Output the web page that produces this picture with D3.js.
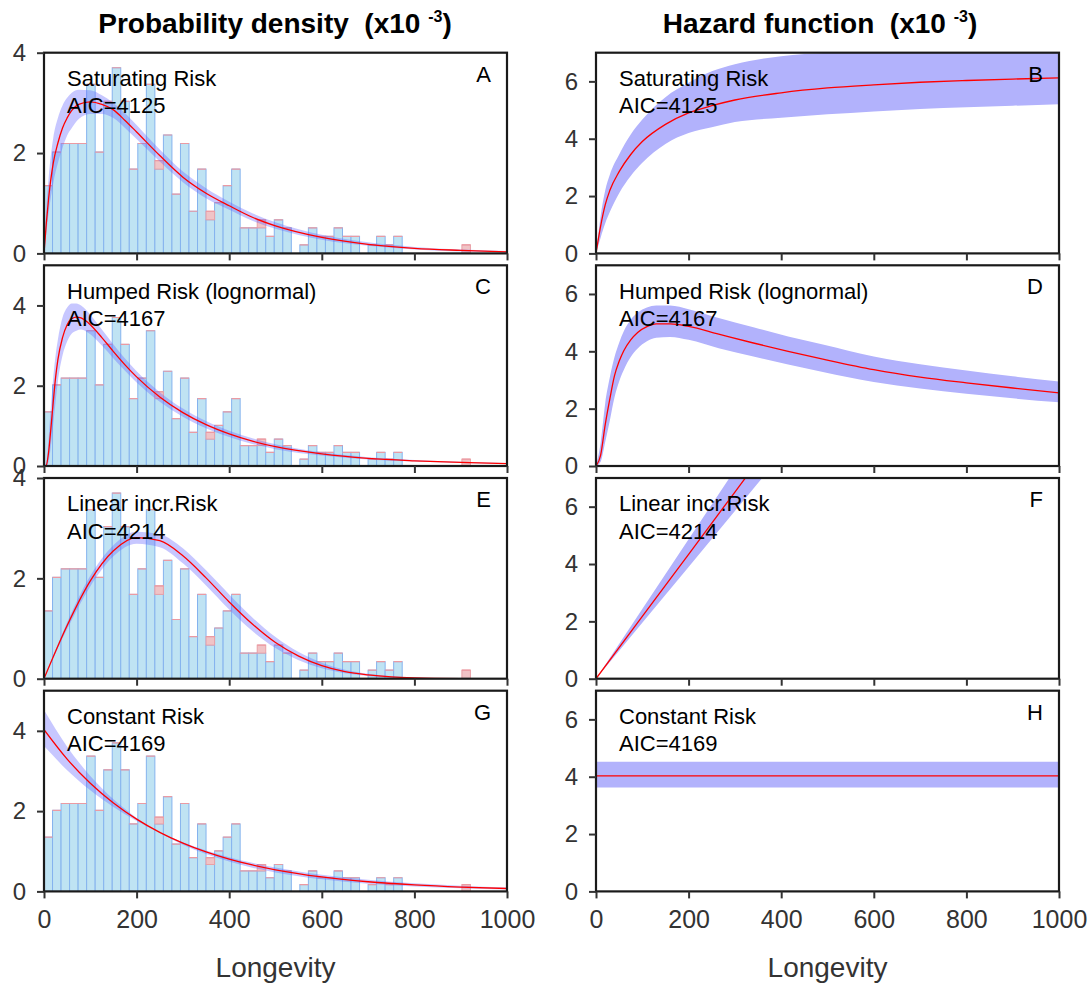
<!DOCTYPE html>
<html><head><meta charset="utf-8">
<script src="https://cdn.jsdelivr.net/npm/d3@7"></script>
<style>body{margin:0;background:#fff;} text{font-family:"Liberation Sans",Arial,sans-serif;}</style>
</head><body>
<svg id="c" width="1090" height="988"></svg>
<script>
// ---------- data ----------
const modelNames = ["Saturating Risk", "Humped Risk (lognormal)", "Linear incr.Risk", "Constant Risk"];
const aicValues = [4125, 4167, 4214, 4169];
const densLetters = ["A", "C", "E", "G"];
const hazLetters = ["B", "D", "F", "H"];
const xTicks = [0, 200, 400, 600, 800, 1000];
const densTicks = [0, 2, 4];
const hazTicks = [0, 2, 4, 6];
const densMax = [4, 5, 4, 5];
const hazMax = [7, 7, 7, 7];

// histogram (density x10^-3), 50 bins of width 18.42 from 0
const binWidth = 18.42;
const histBlue = [1.35,2.02,2.19,2.19,2.19,3.37,2.02,3.03,3.70,3.03,1.68,2.19,3.37,1.68,2.36,1.18,2.19,0.84,1.68,0.67,
  1.01,1.35,1.68,0.51,0.51,0.51,0.34,0.67,0.51,0,0.17,0.51,0.34,0.34,0.51,0.34,0.34,0,0.17,0.34,
  0.17,0.34,0,0,0,0,0,0,0,0];
const histPink = [1.35,2.02,2.19,2.19,2.19,3.37,2.02,3.03,3.70,3.03,1.68,2.19,3.37,1.85,2.36,1.18,2.19,0.84,1.68,0.84,
  1.01,1.35,1.68,0.51,0.51,0.67,0.34,0.67,0.51,0,0.17,0.51,0.34,0.34,0.51,0.34,0.34,0,0.17,0.34,
  0.17,0.34,0,0,0,0,0,0,0,0.17];

// A: saturating density
const tA = [0,5,10,20,30,40,50,60,75,100,125,150,175,200,250,300,350,400,450,500,600,700,800,900,1000];
const fA = [0,0.6,1.1,1.8,2.2,2.5,2.7,2.85,2.97,3.02,2.97,2.86,2.65,2.42,1.95,1.52,1.2,0.95,0.72,0.55,0.32,0.18,0.10,0.06,0.03];
const fA_hi = [0,0.9,1.5,2.3,2.7,2.95,3.1,3.2,3.26,3.25,3.15,3.0,2.8,2.56,2.07,1.63,1.3,1.03,0.8,0.62,0.37,0.22,0.13,0.08,0.05];
const fA_lo = [0,0.4,0.8,1.4,1.8,2.1,2.35,2.5,2.68,2.78,2.78,2.7,2.5,2.28,1.83,1.42,1.1,0.87,0.65,0.49,0.27,0.15,0.08,0.04,0.02];
// B: saturating hazard
const tB = [0,10,20,30,50,75,100,150,200,250,300,400,500,600,700,800,900,1000];
const hB = [0,0.95,1.7,2.2,2.85,3.45,3.9,4.5,4.9,5.15,5.35,5.6,5.77,5.88,5.97,6.03,6.08,6.12];
const hB_hi = [0,1.3,2.2,2.75,3.45,4.15,4.67,5.45,5.95,6.35,6.6,6.88,7.0,7.07,7.15,7.2,7.25,7.28];
const hB_lo = [0,0.55,1.05,1.45,2.1,2.7,3.16,3.82,4.2,4.4,4.58,4.73,4.85,4.95,5.04,5.1,5.15,5.2];
// C: lognormal density
const tC = [0,5,10,15,20,25,30,40,50,60,70,80,90,100,125,150,175,200,250,300,350,400,450,500,600,700,800,900,1000];
const fC = [0,0.02,0.35,0.95,1.6,2.2,2.65,3.2,3.52,3.67,3.71,3.69,3.62,3.52,3.2,2.85,2.52,2.22,1.72,1.33,1.03,0.8,0.62,0.48,0.3,0.19,0.13,0.09,0.06];
const fC_hi = [0,0.1,0.7,1.5,2.2,2.75,3.15,3.7,3.95,4.05,4.05,4.0,3.9,3.77,3.4,3.03,2.68,2.36,1.84,1.43,1.12,0.88,0.69,0.54,0.34,0.22,0.15,0.105,0.075];
const fC_lo = [0,0,0.12,0.5,1.05,1.6,2.1,2.75,3.1,3.3,3.37,3.4,3.36,3.28,3.0,2.68,2.37,2.08,1.6,1.23,0.94,0.72,0.55,0.42,0.26,0.16,0.11,0.075,0.048];
// D: lognormal hazard
const tD = [0,10,20,30,40,50,60,75,90,110,130,160,200,265,340,415,490,600,700,800,900,1000];
const hD = [0,0.38,1.45,2.35,3.15,3.65,4.02,4.4,4.66,4.86,4.96,4.96,4.87,4.6,4.29,4.0,3.73,3.36,3.1,2.9,2.72,2.55];
const hD_hi = [0,0.8,2.2,3.1,3.8,4.3,4.7,5.1,5.35,5.53,5.6,5.6,5.47,5.16,4.84,4.52,4.24,3.82,3.55,3.33,3.13,2.95];
const hD_lo = [0,0.15,0.85,1.6,2.4,2.95,3.35,3.8,4.1,4.35,4.47,4.5,4.4,4.11,3.82,3.54,3.28,2.93,2.7,2.52,2.36,2.22];
// E: linear-hazard density
const tE = [0,50,100,150,200,250,300,350,400,450,500,550,600,650,700,750,800,900,1000];
const fE = [0,1.06,1.95,2.55,2.81,2.75,2.45,2.01,1.53,1.09,0.72,0.45,0.26,0.14,0.075,0.036,0.017,0.003,0];
const fE_hi = [0,1.12,2.05,2.66,2.93,2.88,2.6,2.16,1.68,1.22,0.83,0.53,0.32,0.18,0.1,0.05,0.025,0.005,0];
const fE_lo = [0,0.99,1.84,2.44,2.69,2.62,2.3,1.86,1.38,0.95,0.61,0.37,0.21,0.11,0.055,0.025,0.01,0,0];
// F: linear hazard
const tF = [0,100,200,300,400];
const hF = [0,2.17,4.34,6.51,8.68];
const hF_hi = [0,2.43,4.86,7.29,9.72];
const hF_lo = [0,1.95,3.9,5.85,7.8];
// G: constant-hazard density
const tG = [0,50,100,150,200,250,300,350,400,450,500,600,700,800,900,1000];
const fG = [4.03,3.295,2.694,2.203,1.801,1.472,1.204,0.984,0.805,0.658,0.538,0.36,0.24,0.161,0.107,0.072];
const fG_hi = [4.52,3.606,2.877,2.295,1.831,1.461,1.165,0.93,0.742,0.592,0.472,0.30,0.191,0.122,0.077,0.049];
const fG_lo = [3.62,3.021,2.521,2.104,1.756,1.465,1.223,1.02,0.852,0.711,0.593,0.413,0.288,0.2,0.139,0.097];
// H: constant hazard
const tH = [0,1000];
const hH = [4.03,4.03];
const hH_hi = [4.52,4.52];
const hH_lo = [3.62,3.62];

const densCurves = [
  {t:tA, m:fA, hi:fA_hi, lo:fA_lo, smooth:true},
  {t:tC, m:fC, hi:fC_hi, lo:fC_lo, smooth:true},
  {t:tE, m:fE, hi:fE_hi, lo:fE_lo, smooth:true},
  {t:tG, m:fG, hi:fG_hi, lo:fG_lo, smooth:true}];
const hazCurves = [
  {t:tB, m:hB, hi:hB_hi, lo:hB_lo, smooth:true},
  {t:tD, m:hD, hi:hD_hi, lo:hD_lo, smooth:true},
  {t:tF, m:hF, hi:hF_hi, lo:hF_lo, smooth:false},
  {t:tH, m:hH, hi:hH_hi, lo:hH_lo, smooth:false}];

// ---------- layout ----------
const svg = d3.select("#c");
const cols = [[44, 507], [596, 1059]];
const rowTops = [52.7, 265.3, 478, 690.7];
const panelH = 200.7;
const axisColor = "#333";
const lblFont = 22;

function drawPanel(ci, ri, yMax, yTicks, curve, isDens, letter) {
  const [x0, x1] = cols[ci];
  const top = rowTops[ri], bot = top + panelH;
  const x = d3.scaleLinear().domain([0, 1000]).range([x0, x1]);
  const y = d3.scaleLinear().domain([0, yMax]).range([bot, top]);
  const id = "clip" + ci + ri;
  svg.append("clipPath").attr("id", id).append("rect")
    .attr("x", x0).attr("y", top).attr("width", x1 - x0).attr("height", bot - top);
  const g = svg.append("g").attr("clip-path", `url(#${id})`);

  if (isDens) {
    const bins = histBlue.map((v, i) => ({i, b: v, p: histPink[i]}));
    g.selectAll(".bb").data(bins.filter(d => d.b > 0)).join("rect")
      .attr("x", d => x(d.i * binWidth)).attr("width", d => x((d.i + 1) * binWidth) - x(d.i * binWidth))
      .attr("y", d => y(d.b)).attr("height", d => y(0) - y(d.b))
      .attr("fill", "#bfe3f3").attr("stroke", "#85b3ee").attr("stroke-width", 1);
    g.selectAll(".pp").data(bins.filter(d => d.p > d.b)).join("rect")
      .attr("x", d => x(d.i * binWidth)).attr("width", d => x((d.i + 1) * binWidth) - x(d.i * binWidth))
      .attr("y", d => y(d.p)).attr("height", d => y(d.b) - y(d.p))
      .attr("fill", "#f0c3c6").attr("stroke", "#e9a0a6").attr("stroke-width", 1);
    g.selectAll(".pl").data(bins.filter(d => d.p > 0)).join("line")
      .attr("x1", d => x(d.i * binWidth)).attr("x2", d => x((d.i + 1) * binWidth))
      .attr("y1", d => y(d.p)).attr("y2", d => y(d.p))
      .attr("stroke", "#ec9aa2").attr("stroke-width", 1.2);
  }

  const pts = curve.t.map((t, i) => ({t, m: curve.m[i], hi: curve.hi[i], lo: curve.lo[i]}));
  const cf = curve.smooth ? d3.curveMonotoneX : d3.curveLinear;
  g.append("path").datum(pts)
    .attr("d", d3.area().x(d => x(d.t)).y0(d => y(d.lo)).y1(d => y(d.hi)).curve(cf))
    .attr("fill", isDens ? "rgba(100,100,255,0.36)" : "rgb(178,178,252)");
  g.append("path").datum(pts)
    .attr("d", d3.line().x(d => x(d.t)).y(d => y(d.m)).curve(cf))
    .attr("fill", "none").attr("stroke", "#ff0000").attr("stroke-width", 1.3);

  // frame
  svg.append("rect").attr("x", x0).attr("y", top).attr("width", x1 - x0).attr("height", bot - top)
    .attr("fill", "none").attr("stroke", "#1a1a1a").attr("stroke-width", 2.2);

  // axes (ticks outside)
  const xa = svg.append("g").attr("transform", `translate(0,${bot})`)
    .call(d3.axisBottom(x).tickValues(xTicks).tickSize(7).tickSizeOuter(0)
      .tickFormat(ri === 3 ? d3.format("d") : () => ""));
  xa.select(".domain").remove();
  xa.selectAll(".tick line").attr("stroke", axisColor).attr("stroke-width", 2);
  xa.selectAll(".tick text").attr("font-size", 25).attr("fill", "#333")
    .attr("font-family", '"Liberation Sans",Arial,sans-serif').attr("dy", "1.05em");

  const ya = svg.append("g").attr("transform", `translate(${x0},0)`)
    .call(d3.axisLeft(y).tickValues(yTicks).tickSize(7).tickPadding(11).tickSizeOuter(0).tickFormat(d3.format("d")));
  ya.select(".domain").remove();
  ya.selectAll(".tick line").attr("stroke", axisColor).attr("stroke-width", 2);
  ya.selectAll(".tick text").attr("font-size", 24).attr("fill", "#333")
    .attr("font-family", '"Liberation Sans",Arial,sans-serif');

  // labels
  svg.append("text").attr("x", x0 + 23).attr("y", top + 33.3).attr("font-size", lblFont).attr("fill", "#000")
    .text(modelNames[ri]);
  svg.append("text").attr("x", x0 + 23).attr("y", top + 60.6).attr("font-size", lblFont).attr("fill", "#000")
    .text("AIC=" + aicValues[ri]);
  svg.append("text").attr("x", x1 - 16).attr("y", top + 29).attr("font-size", lblFont).attr("fill", "#000")
    .attr("text-anchor", "end").text(letter);
}

for (let r = 0; r < 4; r++) {
  drawPanel(0, r, densMax[r], densTicks, densCurves[r], true, densLetters[r]);
  drawPanel(1, r, hazMax[r], hazTicks, hazCurves[r], false, hazLetters[r]);
}

// titles
function title(cx, label) {
  const t = svg.append("text").attr("x", cx).attr("y", 33).attr("text-anchor", "middle")
    .attr("font-size", 28).attr("font-weight", "bold").attr("fill", "#000")
    .style("white-space", "pre");
  t.append("tspan").text(label + "  (x10 ");
  t.append("tspan").attr("font-size", 16).attr("dy", -11).text("-3");
  t.append("tspan").attr("dy", 11).text(")");
}
title(275, "Probability density");
title(820, "Hazard function");

// x axis titles
[0, 1].forEach(ci => {
  svg.append("text").attr("x", (cols[ci][0] + cols[ci][1]) / 2).attr("y", 977)
    .attr("text-anchor", "middle").attr("font-size", 28).attr("fill", "#333").text("Longevity");
});
</script></body></html>
